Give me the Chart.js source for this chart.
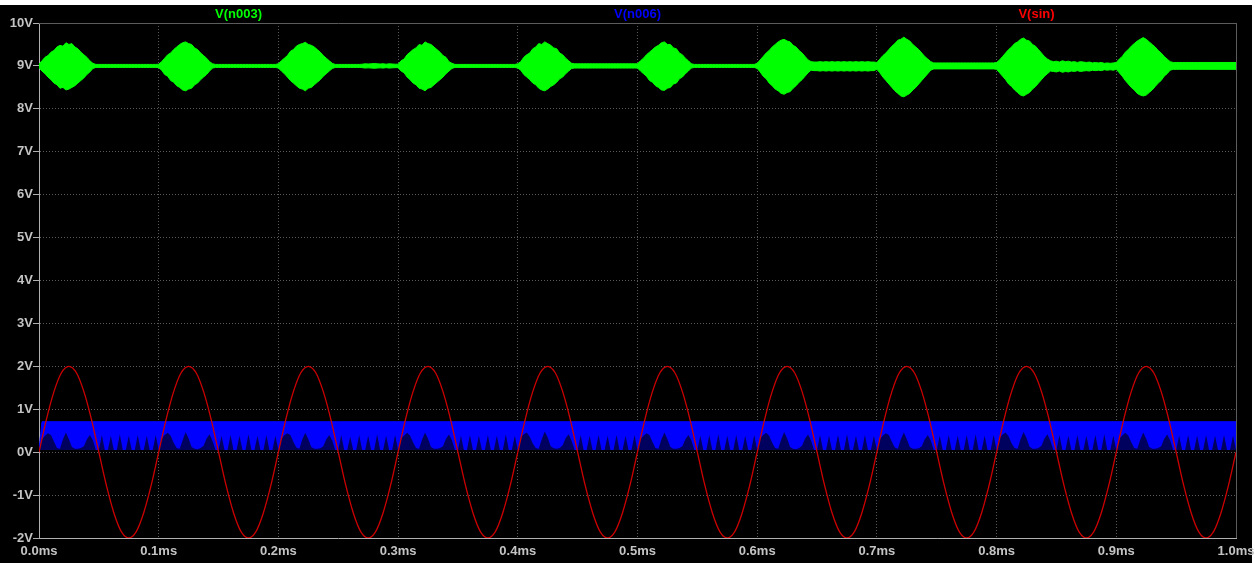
<!DOCTYPE html>
<html>
<head>
<meta charset="utf-8">
<script src="https://cdn.jsdelivr.net/npm/chart.js@4/dist/chart.umd.min.js"></script>
<style>
html,body{margin:0;padding:0;background:#fff;overflow:hidden}
canvas{display:block}
</style>
</head>
<body>
<canvas id="c" width="1255" height="563"></canvas>
<script>
// ---- data ----
const seriesNames = ['V(n003)', 'V(n006)', 'V(sin)'];
const xTickLabels = ['0.0ms','0.1ms','0.2ms','0.3ms','0.4ms','0.5ms','0.6ms','0.7ms','0.8ms','0.9ms','1.0ms'];
const yTickLabels = ['-2V','-1V','0V','1V','2V','3V','4V','5V','6V','7V','8V','9V','10V'];
const gridStep = 0.0025;   // ms between envelope samples
const sinStep = 0.00625;   // ms between V(sin) samples

// V(n003): upper / lower envelope of the bursts (V)
const greenUpper = [
9.04,9.12,9.20,9.24,9.32,9.36,9.44,9.48,9.46,9.54,9.50,9.52,9.44,9.40,9.32,9.26,9.20,9.12,9.06,9.035,
9.035,9.035,9.035,9.035,9.035,9.035,9.035,9.035,9.035,9.035,9.035,9.035,9.035,9.035,9.035,9.035,9.035,9.035,9.035,9.035,
9.04,9.10,9.18,9.26,9.30,9.38,9.44,9.50,9.54,9.56,9.52,9.50,9.42,9.38,9.30,9.24,9.18,9.10,9.05,9.035,
9.035,9.035,9.035,9.035,9.035,9.035,9.035,9.035,9.035,9.035,9.035,9.035,9.035,9.035,9.035,9.035,9.035,9.035,9.035,9.035,
9.05,9.12,9.18,9.24,9.34,9.38,9.46,9.50,9.52,9.55,9.50,9.48,9.44,9.38,9.32,9.24,9.18,9.12,9.06,9.035,
9.035,9.035,9.035,9.035,9.035,9.035,9.035,9.035,9.04,9.05,9.045,9.05,9.055,9.05,9.045,9.05,9.04,9.05,9.045,9.04,
9.04,9.12,9.16,9.26,9.32,9.38,9.42,9.50,9.48,9.56,9.52,9.50,9.44,9.38,9.32,9.24,9.20,9.10,9.06,9.035,
9.035,9.035,9.035,9.035,9.035,9.035,9.035,9.035,9.035,9.035,9.035,9.035,9.035,9.035,9.035,9.035,9.035,9.035,9.035,9.035,
9.05,9.10,9.20,9.26,9.30,9.40,9.44,9.52,9.50,9.56,9.52,9.48,9.42,9.40,9.30,9.26,9.18,9.12,9.06,9.05,
9.05,9.05,9.05,9.05,9.05,9.05,9.05,9.05,9.05,9.05,9.05,9.05,9.05,9.05,9.05,9.05,9.05,9.05,9.05,9.05,
9.05,9.12,9.18,9.26,9.32,9.38,9.44,9.48,9.54,9.56,9.50,9.50,9.42,9.40,9.30,9.26,9.18,9.12,9.05,9.035,
9.035,9.035,9.035,9.035,9.035,9.035,9.035,9.035,9.035,9.035,9.035,9.035,9.035,9.035,9.035,9.035,9.035,9.035,9.035,9.035,
9.06,9.14,9.22,9.30,9.36,9.44,9.50,9.56,9.60,9.62,9.58,9.56,9.48,9.44,9.36,9.30,9.22,9.14,9.10,9.09,
9.09,9.10,9.09,9.10,9.09,9.10,9.09,9.10,9.09,9.10,9.09,9.10,9.09,9.10,9.09,9.10,9.09,9.10,9.09,9.09,
9.08,9.16,9.24,9.30,9.38,9.46,9.52,9.60,9.62,9.67,9.62,9.58,9.50,9.44,9.38,9.30,9.22,9.16,9.10,9.07,
9.07,9.07,9.07,9.07,9.07,9.07,9.07,9.07,9.07,9.07,9.07,9.07,9.07,9.07,9.07,9.07,9.07,9.07,9.07,9.07,
9.08,9.14,9.22,9.30,9.38,9.44,9.52,9.56,9.62,9.65,9.60,9.58,9.50,9.46,9.38,9.30,9.22,9.16,9.12,9.10,
9.11,9.09,9.12,9.10,9.11,9.09,9.10,9.08,9.10,9.09,9.08,9.09,9.07,9.08,9.07,9.08,9.06,9.07,9.06,9.07,
9.08,9.16,9.22,9.32,9.38,9.46,9.52,9.58,9.62,9.66,9.62,9.56,9.50,9.44,9.36,9.30,9.22,9.16,9.10,9.08,
9.08,9.08,9.08,9.08,9.08,9.08,9.08,9.08,9.08,9.08,9.08,9.08,9.08,9.08,9.08,9.08,9.08,9.08,9.08,9.08,
9.08
];
const greenLower = [
8.96,8.88,8.82,8.74,8.68,8.60,8.56,8.48,8.50,8.44,8.46,8.50,8.54,8.60,8.66,8.72,8.80,8.86,8.94,8.965,
8.965,8.965,8.965,8.965,8.965,8.965,8.965,8.965,8.965,8.965,8.965,8.965,8.965,8.965,8.965,8.965,8.965,8.965,8.965,8.965,
8.96,8.90,8.80,8.76,8.66,8.62,8.54,8.50,8.44,8.42,8.46,8.48,8.56,8.60,8.68,8.74,8.80,8.88,8.95,8.965,
8.965,8.965,8.965,8.965,8.965,8.965,8.965,8.965,8.965,8.965,8.965,8.965,8.965,8.965,8.965,8.965,8.965,8.965,8.965,8.965,
8.95,8.88,8.82,8.74,8.66,8.60,8.54,8.48,8.46,8.42,8.48,8.50,8.56,8.62,8.68,8.76,8.82,8.88,8.94,8.965,
8.965,8.965,8.965,8.965,8.965,8.965,8.965,8.965,8.96,8.95,8.955,8.95,8.945,8.95,8.955,8.95,8.96,8.95,8.955,8.96,
8.96,8.88,8.84,8.74,8.68,8.60,8.56,8.48,8.46,8.42,8.48,8.50,8.56,8.62,8.68,8.74,8.82,8.88,8.94,8.965,
8.965,8.965,8.965,8.965,8.965,8.965,8.965,8.965,8.965,8.965,8.965,8.965,8.965,8.965,8.965,8.965,8.965,8.965,8.965,8.965,
8.95,8.90,8.80,8.74,8.68,8.60,8.56,8.48,8.44,8.42,8.46,8.52,8.56,8.62,8.70,8.74,8.82,8.88,8.94,8.95,
8.95,8.95,8.95,8.95,8.95,8.95,8.95,8.95,8.95,8.95,8.95,8.95,8.95,8.95,8.95,8.95,8.95,8.95,8.95,8.95,
8.95,8.88,8.82,8.76,8.66,8.62,8.54,8.50,8.44,8.43,8.48,8.50,8.58,8.60,8.70,8.74,8.82,8.88,8.95,8.965,
8.965,8.965,8.965,8.965,8.965,8.965,8.965,8.965,8.965,8.965,8.965,8.965,8.965,8.965,8.965,8.965,8.965,8.965,8.965,8.965,
8.94,8.86,8.76,8.70,8.60,8.54,8.46,8.42,8.36,8.34,8.38,8.40,8.48,8.54,8.62,8.68,8.76,8.84,8.90,8.89,
8.89,8.88,8.89,8.88,8.89,8.88,8.89,8.88,8.89,8.88,8.89,8.88,8.89,8.88,8.89,8.88,8.89,8.88,8.89,8.89,
8.92,8.84,8.74,8.66,8.58,8.50,8.42,8.36,8.30,8.28,8.32,8.36,8.44,8.50,8.58,8.66,8.74,8.82,8.90,8.93,
8.93,8.93,8.93,8.93,8.93,8.93,8.93,8.93,8.93,8.93,8.93,8.93,8.93,8.93,8.93,8.93,8.93,8.93,8.93,8.93,
8.92,8.84,8.76,8.68,8.58,8.52,8.44,8.38,8.32,8.30,8.34,8.38,8.46,8.52,8.60,8.68,8.76,8.82,8.88,8.87,
8.86,8.88,8.85,8.87,8.86,8.88,8.87,8.89,8.87,8.88,8.89,8.88,8.90,8.89,8.90,8.89,8.91,8.90,8.91,8.90,
8.92,8.84,8.76,8.66,8.58,8.50,8.44,8.36,8.32,8.30,8.32,8.38,8.44,8.52,8.60,8.66,8.76,8.82,8.90,8.92,
8.92,8.92,8.92,8.92,8.92,8.92,8.92,8.92,8.92,8.92,8.92,8.92,8.92,8.92,8.92,8.92,8.92,8.92,8.92,8.92,
8.92
];

// V(n006): top of the band and the lower (tooth) edge of the solid blue
const blueTopTimes = [0, 0.0025, 1.0];
const blueTop = [0.05, 0.71, 0.71];
const blueBase = 0.05;
const blueTeeth = [
0.05,0.30,0.38,0.44,0.40,0.25,0.10,0.08,0.30,0.46,0.30,0.12,0.08,0.08,0.10,0.14,0.30,0.40,0.28,0.05,
0.05,0.40,0.05,0.05,0.38,0.05,0.05,0.42,0.05,0.05,0.38,0.05,0.05,0.40,0.05,0.05,0.38,0.05,0.05,0.40,
0.05,0.32,0.40,0.45,0.38,0.22,0.10,0.08,0.28,0.47,0.32,0.12,0.08,0.07,0.10,0.15,0.32,0.42,0.26,0.05,
0.05,0.38,0.05,0.05,0.40,0.05,0.05,0.38,0.05,0.05,0.42,0.05,0.05,0.38,0.05,0.05,0.40,0.05,0.05,0.38,
0.05,0.30,0.40,0.44,0.40,0.24,0.11,0.08,0.30,0.45,0.30,0.12,0.08,0.08,0.09,0.14,0.30,0.40,0.27,0.05,
0.05,0.40,0.05,0.05,0.36,0.05,0.05,0.40,0.05,0.05,0.38,0.05,0.05,0.42,0.05,0.05,0.38,0.05,0.05,0.40,
0.05,0.31,0.39,0.45,0.39,0.23,0.10,0.08,0.29,0.46,0.31,0.12,0.08,0.08,0.10,0.14,0.31,0.41,0.28,0.05,
0.05,0.38,0.05,0.05,0.40,0.05,0.05,0.38,0.05,0.05,0.40,0.05,0.05,0.38,0.05,0.05,0.42,0.05,0.05,0.38,
0.05,0.34,0.42,0.46,0.36,0.20,0.10,0.08,0.30,0.48,0.34,0.14,0.09,0.08,0.10,0.16,0.33,0.42,0.26,0.05,
0.05,0.40,0.05,0.05,0.38,0.05,0.05,0.40,0.05,0.05,0.38,0.05,0.05,0.40,0.05,0.05,0.38,0.05,0.05,0.40,
0.05,0.30,0.38,0.44,0.40,0.24,0.10,0.08,0.30,0.46,0.30,0.12,0.08,0.08,0.10,0.14,0.30,0.40,0.28,0.05,
0.05,0.38,0.05,0.05,0.40,0.05,0.05,0.42,0.05,0.05,0.38,0.05,0.05,0.40,0.05,0.05,0.38,0.05,0.05,0.40,
0.05,0.32,0.40,0.45,0.38,0.22,0.10,0.08,0.29,0.47,0.32,0.12,0.08,0.07,0.10,0.15,0.32,0.41,0.27,0.05,
0.05,0.40,0.05,0.05,0.38,0.05,0.05,0.40,0.05,0.05,0.42,0.05,0.05,0.38,0.05,0.05,0.40,0.05,0.05,0.38,
0.05,0.30,0.39,0.44,0.40,0.24,0.11,0.08,0.30,0.46,0.30,0.12,0.08,0.08,0.09,0.14,0.30,0.40,0.27,0.05,
0.05,0.38,0.05,0.05,0.40,0.05,0.05,0.38,0.05,0.05,0.40,0.05,0.05,0.42,0.05,0.05,0.38,0.05,0.05,0.40,
0.05,0.33,0.41,0.46,0.37,0.21,0.10,0.08,0.30,0.47,0.33,0.13,0.08,0.08,0.10,0.15,0.32,0.42,0.26,0.05,
0.05,0.40,0.05,0.05,0.38,0.05,0.05,0.40,0.05,0.05,0.38,0.05,0.05,0.40,0.05,0.05,0.42,0.05,0.05,0.38,
0.05,0.31,0.39,0.45,0.39,0.23,0.10,0.08,0.29,0.46,0.31,0.12,0.08,0.08,0.10,0.14,0.31,0.41,0.28,0.05,
0.05,0.38,0.05,0.05,0.40,0.05,0.05,0.38,0.05,0.05,0.40,0.05,0.05,0.38,0.05,0.05,0.40,0.05,0.05,0.38,
0.05
];

// V(sin): 2 V, 10 kHz source
const vSin = [
0,0.77,1.41,1.85,2,1.85,1.41,0.77,0,-0.77,-1.41,-1.85,-2,-1.85,-1.41,-0.77,
0,0.77,1.41,1.85,2,1.85,1.41,0.77,0,-0.77,-1.41,-1.85,-2,-1.85,-1.41,-0.77,
0,0.77,1.41,1.85,2,1.85,1.41,0.77,0,-0.77,-1.41,-1.85,-2,-1.85,-1.41,-0.77,
0,0.77,1.41,1.85,2,1.85,1.41,0.77,0,-0.77,-1.41,-1.85,-2,-1.85,-1.41,-0.77,
0,0.77,1.41,1.85,2,1.85,1.41,0.77,0,-0.77,-1.41,-1.85,-2,-1.85,-1.41,-0.77,
0,0.77,1.41,1.85,2,1.85,1.41,0.77,0,-0.77,-1.41,-1.85,-2,-1.85,-1.41,-0.77,
0,0.77,1.41,1.85,2,1.85,1.41,0.77,0,-0.77,-1.41,-1.85,-2,-1.85,-1.41,-0.77,
0,0.77,1.41,1.85,2,1.85,1.41,0.77,0,-0.77,-1.41,-1.85,-2,-1.85,-1.41,-0.77,
0,0.77,1.41,1.85,2,1.85,1.41,0.77,0,-0.77,-1.41,-1.85,-2,-1.85,-1.41,-0.77,
0,0.77,1.41,1.85,2,1.85,1.41,0.77,0,-0.77,-1.41,-1.85,-2,-1.85,-1.41,-0.77,
0
];

// ---- build the library's tables ----
const tGrid = greenUpper.map((_, i) => +(i * gridStep).toFixed(5));
const tSin = vSin.map((_, i) => +(i * sinStep).toFixed(5));
const pts = (t, v) => v.map((y, i) => ({x: t[i], y: y}));

const seriesColors = ['#00ff00', '#0000ff', '#ff0000'];
const LABEL = '#c4c4c4';
const FONT = {family: "Arial, 'Liberation Sans', sans-serif", size: 13, weight: 'bold'};

const bgPlugin = {
  id: 'bg',
  beforeDraw(chart) {
    const ctx = chart.ctx;
    ctx.save();
    ctx.fillStyle = '#ffffff';
    ctx.fillRect(0, 0, chart.width, chart.height);
    ctx.fillStyle = '#000000';
    ctx.fillRect(0, 5, chart.width - 3, chart.height - 5);
    ctx.restore();
  }
};
const framePlugin = {
  id: 'frame',
  beforeDatasetsDraw(chart) {
    const a = chart.chartArea, ctx = chart.ctx;
    ctx.save();
    ctx.strokeStyle = '#5c5c5c';
    ctx.lineWidth = 1;
    ctx.beginPath();
    ctx.moveTo(a.left, Math.round(a.top) + 0.5);
    ctx.lineTo(Math.round(a.right) + 0.5, Math.round(a.top) + 0.5);
    ctx.lineTo(Math.round(a.right) + 0.5, a.bottom);
    ctx.stroke();
    ctx.restore();
  },
  afterDraw(chart) {
    const a = chart.chartArea, ctx = chart.ctx;
    ctx.save();
    ctx.font = 'bold 13px ' + FONT.family;
    ctx.textAlign = 'center';
    ctx.textBaseline = 'middle';
    const w = (a.right - a.left) / seriesNames.length;
    seriesNames.forEach((n, i) => {
      ctx.fillStyle = seriesColors[i];
      ctx.fillText(n, a.left + w * (i + 0.5), 14);
    });
    ctx.restore();
  }
};

new Chart(document.getElementById('c'), {
  type: 'line',
  data: {
    datasets: [
      {label: seriesNames[0], data: pts(tGrid, greenLower), borderColor: '#00ff00', borderWidth: 1,
       fill: false, order: 3},
      {label: seriesNames[0] + ' upper', data: pts(tGrid, greenUpper), borderColor: '#00ff00', borderWidth: 1,
       backgroundColor: '#00ff00', fill: '-1', order: 3},
      {label: seriesNames[1], data: pts(blueTopTimes, blueTop), borderColor: '#0000ff', borderWidth: 1,
       backgroundColor: '#0000ff', fill: {value: blueBase}, order: 2},
      {label: seriesNames[1] + ' teeth', data: pts(tGrid, blueTeeth), borderColor: 'rgba(0,0,0,0)', borderWidth: 0,
       backgroundColor: '#00005e', fill: {value: blueBase}, order: 1},
      {label: seriesNames[2], data: pts(tSin, vSin), borderColor: '#cc0000', borderWidth: 1.3,
       fill: false, cubicInterpolationMode: 'monotone', order: 0}
    ]
  },
  options: {
    responsive: false,
    animation: false,
    devicePixelRatio: 1,
    elements: {point: {radius: 0, hoverRadius: 0}, line: {tension: 0}},
    layout: {padding: {left: 0, right: 19, top: 23, bottom: 0}},
    plugins: {legend: {display: false}, tooltip: {enabled: false}, title: {display: false}},
    events: [],
    scales: {
      x: {
        type: 'linear', min: 0, max: 1,
        afterFit(s) { s.height = 25; s.paddingLeft = 0; s.paddingRight = 0; },
        ticks: {stepSize: 0.1, autoSkip: false, maxRotation: 0, color: LABEL, font: FONT, padding: 6,
                callback: (v, i) => xTickLabels[i]},
        grid: {color: '#5a5a5a', lineWidth: 1, drawTicks: false},
        border: {display: true, color: '#b0b0b0', width: 1, dash: [1, 2]}
      },
      y: {
        type: 'linear', min: -2, max: 10,
        afterFit(s) { s.width = 39; s.paddingTop = 0; s.paddingBottom = 0; },
        ticks: {stepSize: 1, autoSkip: false, color: LABEL, font: FONT, padding: 0,
                callback: (v, i) => yTickLabels[i]},
        grid: {color: '#5a5a5a', lineWidth: 1, drawTicks: true, tickLength: 6, tickColor: '#b0b0b0', tickBorderDash: []},
        border: {display: true, color: '#b0b0b0', width: 1, dash: [1, 2]}
      }
    }
  },
  plugins: [bgPlugin, framePlugin]
});
</script>
</body>
</html>
